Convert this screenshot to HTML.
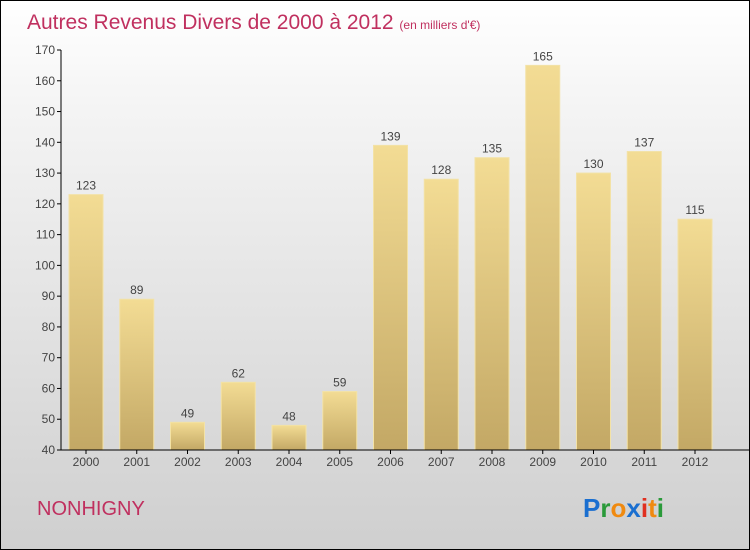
<!DOCTYPE html>
<html><head><meta charset="utf-8"><style>
body{margin:0}
#c{width:748px;height:548px;border:1px solid #000;background:linear-gradient(#ffffff,#f4f4f4 20%,#cfcfcf);position:relative;overflow:hidden;font-family:"Liberation Sans",sans-serif}
</style></head><body>
<div id="c">
<svg width="748" height="548" id="s">
<defs><linearGradient id="g" x1="0" y1="0" x2="0" y2="1"><stop offset="0" stop-color="#f3dc94"/><stop offset="1" stop-color="#c3a865"/></linearGradient></defs>
<text x="26" y="28" font-size="21" fill="#c0305f">Autres Revenus Divers de 2000 à 2012 <tspan font-size="12">(en milliers d'€)</tspan></text>
<text x="36" y="514" font-size="20" fill="#c0305f">NONHIGNY</text>
<text x="582" y="516" font-size="26" font-weight="bold"><tspan fill="#1a6fd0">P</tspan><tspan fill="#2a9a3a">r</tspan><tspan fill="#f08a10">o</tspan><tspan fill="#1a6fd0">x</tspan><tspan fill="#e03020">i</tspan><tspan fill="#f08a10">t</tspan><tspan fill="#2a9a3a">i</tspan></text>
<g id="plot"></g>
</svg></div>
<script>
const years=["2000","2001","2002","2003","2004","2005","2006","2007","2008","2009","2010","2011","2012"];
const values=[123,89,49,62,48,59,139,128,135,165,130,137,115];
const ticks=[40,50,60,70,80,90,100,110,120,130,140,150,160,170];
const NS="http://www.w3.org/2000/svg",p=document.getElementById('plot');
const y=v=>449-(v-40)*400/130, x=i=>85+i*50.75;
function mk(t,a){const e=document.createElementNS(NS,t);for(const k in a)e.setAttribute(k,a[k]);p.appendChild(e);return e;}
ticks.forEach(t=>{const l=mk('line',{x1:56,x2:60,y1:y(t),y2:y(t),stroke:'#000'});

const tx=mk('text',{x:54,y:y(t)+4,'text-anchor':'end','font-size':12,fill:'#444'});tx.textContent=t;
});
years.forEach((yr,i)=>{const v=values[i];
const r=mk('rect',{x:x(i)-17,y:y(v),width:34,height:y(40)-y(v),fill:'url(#g)',stroke:'#f3e2a6','stroke-width':1});

const lv=mk('text',{x:x(i),y:y(v)-5,'text-anchor':'middle','font-size':12,fill:'#444'});lv.textContent=v;

const tk=mk('line',{x1:x(i),x2:x(i),y1:449,y2:453,stroke:'#000'});

const xl=mk('text',{x:x(i),y:465,'text-anchor':'middle','font-size':12,fill:'#444'});xl.textContent=yr;
});
const ya=mk('line',{x1:60,x2:60,y1:y(170),y2:449,stroke:'#000'});

const xa=mk('line',{x1:60,x2:748,y1:449,y2:449,stroke:'#000'});

</script></body></html>
